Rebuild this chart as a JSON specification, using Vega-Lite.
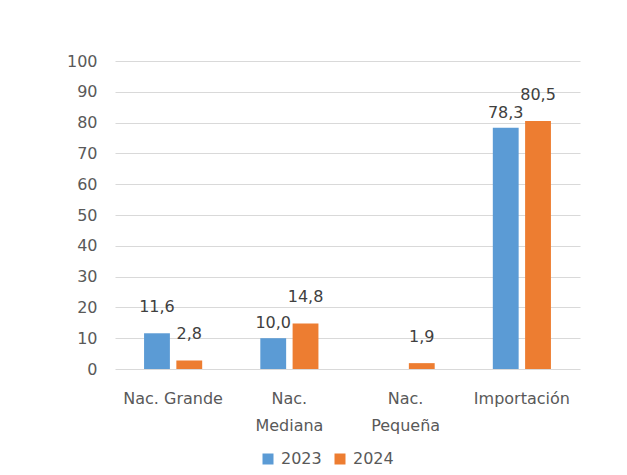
{
  "$schema": "https://vega.github.io/schema/vega-lite/v6.json",
  "width": 465,
  "height": 308,
  "autosize": "none",
  "padding": {"left": 115, "top": 61, "right": 47, "bottom": 106},
  "background": "white",
  "config": {
    "view": {"stroke": null},
    "font": "DejaVu Sans",
    "locale": {"number": {"decimal": ",", "thousands": ".", "grouping": [3], "currency": ["$", ""]}}
  },
  "data": {
    "values": [
      {"categoria": "Nac. Grande", "anio": "2023", "valor": 11.6},
      {"categoria": "Nac. Grande", "anio": "2024", "valor": 2.8},
      {"categoria": "Nac. Mediana", "anio": "2023", "valor": 10.0},
      {"categoria": "Nac. Mediana", "anio": "2024", "valor": 14.8},
      {"categoria": "Nac. Pequeña", "anio": "2024", "valor": 1.9},
      {"categoria": "Importación", "anio": "2023", "valor": 78.3},
      {"categoria": "Importación", "anio": "2024", "valor": 80.5}
    ]
  },
  "encoding": {
    "x": {
      "field": "categoria",
      "type": "nominal",
      "sort": ["Nac. Grande", "Nac. Mediana", "Nac. Pequeña", "Importación"],
      "scale": {"paddingInner": 0.5, "paddingOuter": 0.25},
      "axis": {
        "title": null,
        "labelAngle": 0,
        "domain": false,
        "ticks": false,
        "labelPadding": 21,
        "labelFontSize": 16,
        "labelColor": "#595959",
        "labelLineHeight": 27,
        "labelExpr": "datum.value == 'Nac. Mediana' || datum.value == 'Nac. Pequeña' ? split(datum.value, ' ') : datum.value"
      }
    },
    "xOffset": {"field": "anio", "type": "nominal", "sort": ["2023", "2024"], "scale": {"paddingInner": 0.2}},
    "y": {
      "field": "valor",
      "type": "quantitative",
      "scale": {"domain": [0, 100]},
      "axis": {
        "title": null,
        "domain": false,
        "ticks": false,
        "values": [0, 10, 20, 30, 40, 50, 60, 70, 80, 90, 100],
        "gridColor": "#d9d9d9",
        "labelPadding": 18,
        "labelFontSize": 16,
        "labelColor": "#595959"
      }
    }
  },
  "layer": [
    {
      "mark": {"type": "bar"},
      "encoding": {
        "color": {
          "field": "anio",
          "type": "nominal",
          "scale": {"domain": ["2023", "2024"], "range": ["#5B9BD5", "#ED7D31"]},
          "legend": {
            "title": null,
            "orient": "none",
            "legendX": 145,
            "legendY": 390,
            "direction": "horizontal",
            "symbolType": "square",
            "symbolSize": 121,
            "symbolStrokeWidth": 0,
            "labelFontSize": 16,
            "labelColor": "#595959",
            "labelOffset": 5,
            "columnPadding": 10
          }
        }
      }
    },
    {
      "transform": [{"filter": "!((datum.categoria == 'Nac. Mediana' || datum.categoria == 'Importación') && datum.anio == '2023')"}],
      "mark": {"type": "text", "dy": -26, "fontSize": 16, "color": "#404040"},
      "encoding": {"text": {"field": "valor", "type": "quantitative", "format": ".1f"}}
    },
    {
      "transform": [{"filter": "(datum.categoria == 'Nac. Mediana' || datum.categoria == 'Importación') && datum.anio == '2023'"}],
      "mark": {"type": "text", "dy": -15, "fontSize": 16, "color": "#404040"},
      "encoding": {"text": {"field": "valor", "type": "quantitative", "format": ".1f"}}
    }
  ]
}
